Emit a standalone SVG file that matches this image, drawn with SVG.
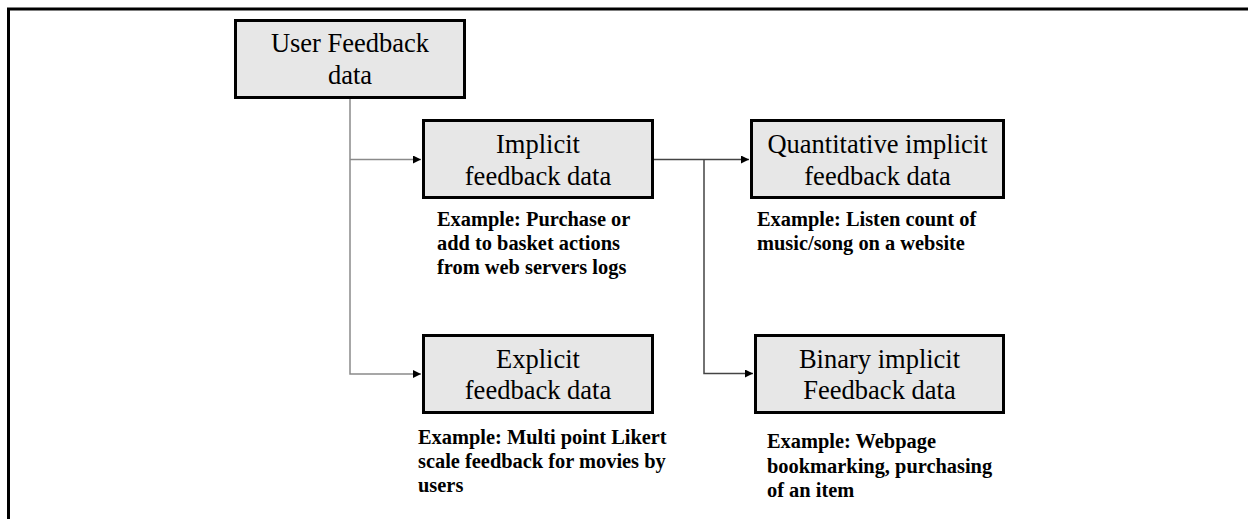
<svg xmlns="http://www.w3.org/2000/svg" width="1248" height="519" viewBox="0 0 1248 519">
<style>
.box{fill:#e7e7e7;stroke:#000;stroke-width:3}
.lbl{font-size:26.5px;fill:#000;text-anchor:middle}
.ex{font-size:20.4px;font-weight:bold;fill:#000}
.c1{fill:none;stroke:#8a8a8a;stroke-width:1.5}
.c2{fill:none;stroke:#444;stroke-width:1.5}
</style>
<defs>
<marker id="arr" markerUnits="userSpaceOnUse" markerWidth="9" markerHeight="9" refX="8" refY="4" orient="auto">
<path d="M0,0 L8,4 L0,8 Z" fill="#000"/>
</marker>
</defs>
<rect width="1248" height="519" fill="#fff"/>
<g id="frame">
<path d="M8.5,519 L8.5,9 L1248,9" fill="none" stroke="#000" stroke-width="3"/>
</g>
<g id="connectors">
<path class="c1" d="M350,98 L350,374 L421,374" marker-end="url(#arr)"/>
<path class="c1" d="M350,159.5 L421,159.5" marker-end="url(#arr)"/>
<path class="c2" d="M653,159.5 L749,159.5" marker-end="url(#arr)"/>
<path class="c2" d="M704,159.5 L704,373.5 L753,373.5" marker-end="url(#arr)"/>
</g>
<g font-family="'Liberation Serif', 'DejaVu Serif', serif">
<g id="user">
<rect class="box" x="235.5" y="20.5" width="229" height="77"/>
<text class="lbl" x="350" y="52">User Feedback</text>
<text class="lbl" x="350" y="83.5">data</text>
</g>
<g id="implicit">
<rect class="box" x="423.5" y="120.5" width="229" height="77"/>
<text class="lbl" x="538" y="153">Implicit</text>
<text class="lbl" x="538" y="184.5">feedback data</text>
<text class="ex" x="437" y="226">Example: Purchase or</text>
<text class="ex" x="437" y="250">add to basket actions</text>
<text class="ex" x="437" y="274">from web servers logs</text>
</g>
<g id="explicit">
<rect class="box" x="423.5" y="335.5" width="229" height="77"/>
<text class="lbl" x="538" y="367.5">Explicit</text>
<text class="lbl" x="538" y="399">feedback data</text>
<text class="ex" x="418" y="444">Example: Multi point Likert</text>
<text class="ex" x="418" y="468">scale feedback for movies by</text>
<text class="ex" x="418" y="492">users</text>
</g>
<g id="quantitative">
<rect class="box" x="751.5" y="120.5" width="252" height="77"/>
<text class="lbl" x="877.5" y="153">Quantitative implicit</text>
<text class="lbl" x="877.5" y="184.5">feedback data</text>
<text class="ex" x="757" y="226">Example: Listen count of</text>
<text class="ex" x="757" y="250">music/song on a website</text>
</g>
<g id="binary">
<rect class="box" x="755.5" y="335.5" width="248" height="77"/>
<text class="lbl" x="879.5" y="367.5">Binary implicit</text>
<text class="lbl" x="879.5" y="399">Feedback data</text>
<text class="ex" x="767" y="448">Example: Webpage</text>
<text class="ex" x="767" y="473">bookmarking, purchasing</text>
<text class="ex" x="767" y="497">of an item</text>
</g>
</g>
</svg>
